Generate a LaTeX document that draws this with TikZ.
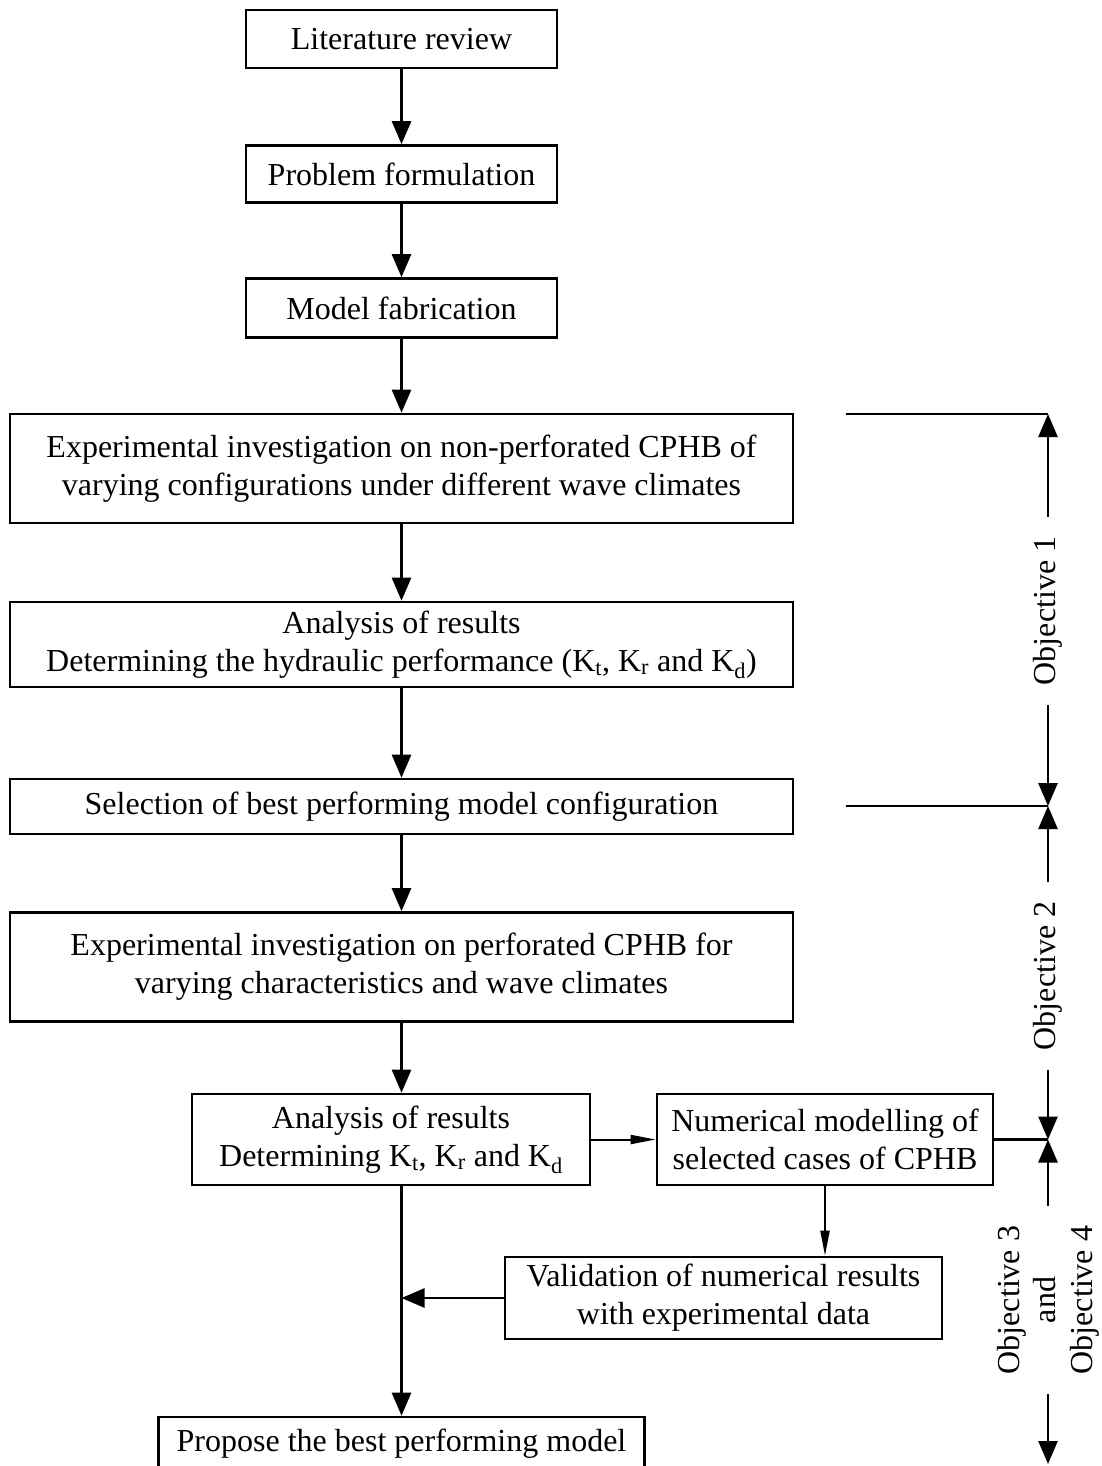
\documentclass[tikz,border=0pt]{standalone}
\usepackage{fontspec}
\setmainfont{Liberation Serif}
\usetikzlibrary{arrows.meta,positioning}

\begin{document}
\begin{tikzpicture}[main/.style = {draw, rectangle, line width=2.6pt, align=center, inner sep=0pt, font=\fontsize{32}{38}\selectfont},
                    obj/.style = {rotate=90, align=center, inner xsep=20pt, inner ysep=0pt, font=\fontsize{32}{36.5}\selectfont},
                    arr/.style = {line width=2.6pt, -{Triangle[length=23pt,width=19pt]}},
                    sarr/.style = {line width=2pt, -{Triangle[length=25pt,width=9pt]}},
                    node distance={135pt}]
\useasboundingbox (0,0) rectangle (1101pt,-1466pt);
\node[main, minimum width=311pt, minimum height=58pt] (1) at (401.5pt,-39pt) {Literature review};
\node[main, minimum width=311pt, minimum height=57pt] (2) [below of=1] {Problem formulation};
\node[main, minimum width=311pt, minimum height=59pt] (3) [below of=2, node distance=134pt] {Model fabrication};
\node[main, minimum width=783pt, minimum height=109pt] (4) [below of=3, node distance=160.5pt] {Experimental investigation on non-perforated CPHB of\\varying configurations under different wave climates};
\node[main, minimum width=783pt, minimum height=85pt] (5) [below of=4, node distance=176pt] {Analysis of results\\Determining the hydraulic performance (K\textsubscript{t}, K\textsubscript{r} and K\textsubscript{d})};
\node[main, minimum width=783pt, minimum height=55pt] (6) [below of=5, node distance=162pt] {Selection of best performing model configuration};
\node[main, minimum width=783pt, minimum height=109pt] (7) [below of=6, node distance=160.5pt] {Experimental investigation on perforated CPHB for\\varying characteristics and wave climates};
\node[main, minimum width=398pt, minimum height=91pt] (8) [below of=7, node distance=172.5pt, xshift=-10.5pt] {Analysis of results\\Determining K\textsubscript{t}, K\textsubscript{r} and K\textsubscript{d}};
\node[main, minimum width=336pt, minimum height=91pt] (9) [right of=8, node distance=434pt] {Numerical modelling of\\selected cases of CPHB};
\node[main, minimum width=437pt, minimum height=82pt] (10) [below of=9, node distance=158.5pt, xshift=-101.5pt] {Validation of numerical results\\with experimental data};
\node[main, minimum width=486pt, minimum height=54pt] (11) [below of=7, node distance=477pt] {Propose the best performing model};
\draw[arr] (1) -- (2);
\draw[arr] (2) -- (3);
\draw[arr] (3) -- (4);
\draw[arr] (4) -- (5);
\draw[arr] (5) -- (6);
\draw[arr] (6) -- (7);
\draw[arr] (7.south) -- (7.south |- 8.north);
\draw[sarr] (8) -- (9);
\draw[sarr] (9.south) -- (9.south |- 10.north);
\coordinate (m) at (7.south |- 10.west);
\draw[arr] (10) -- (m);
\draw[arr] (7.south |- 8.south) -- (11);
% objectives on the right
\coordinate (a1) at (846pt,-414pt);
\coordinate (a2) at (1048pt,-414pt);
\coordinate (b1) at (846pt,-806pt);
\coordinate (b2) at (1048pt,-806pt);
\coordinate (c2) at (9.east -| a2);
\coordinate (d2) at (1048pt,-1464pt);
\node[obj] (o1) at (1048pt,-611pt) {Objective 1};
\node[obj] (o2) at (1048pt,-976pt) {Objective 2};
\node[obj] (o3) at (1048pt,-1300pt) {Objective 3\\and\\Objective 4};
\draw[line width=2.6pt] (a1) -- (a2);
\draw[line width=2.6pt] (b1) -- (b2);
\draw[line width=2.6pt] (9.east) -- (c2);
\draw[arr] (o1) -- (a2);
\draw[arr] (o1) -- (b2);
\draw[arr] (o2) -- (b2);
\draw[arr] (o2) -- (c2);
\draw[arr] (o3) -- (c2);
\draw[arr] (o3) -- (d2);
\end{tikzpicture}
\end{document}
